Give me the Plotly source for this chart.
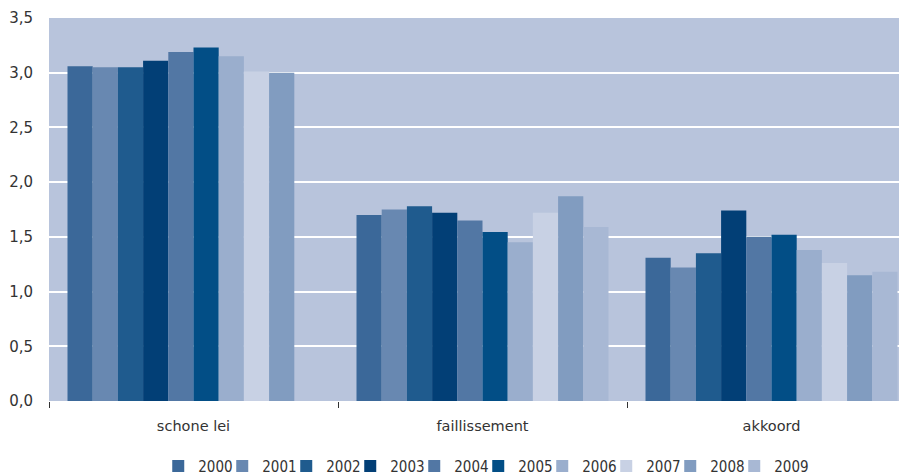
import plotly.graph_objects as go

categorias = ["schone lei", "faillissement", "akkoord"]
jaren = ["2000", "2001", "2002", "2003", "2004", "2005", "2006", "2007", "2008", "2009"]

# waarden per jaar: schone lei, faillissement, akkoord
w2000 = [3.06, 1.70, 1.31]
w2001 = [3.05, 1.75, 1.22]
w2002 = [3.05, 1.78, 1.35]
w2003 = [3.11, 1.72, 1.74]
w2004 = [3.19, 1.65, 1.50]
w2005 = [3.23, 1.545, 1.52]
w2006 = [3.15, 1.45, 1.38]
w2007 = [3.01, 1.72, 1.26]
w2008 = [3.00, 1.87, 1.15]
w2009 = [None, 1.59, 1.18]

waarden = [w2000, w2001, w2002, w2003, w2004, w2005, w2006, w2007, w2008, w2009]
kleuren = ["#3b6899", "#6888b1", "#1f5b8e", "#023f76", "#5277a4",
           "#024e86", "#9aaecd", "#c8d1e4", "#819cc0", "#a8b8d4"]

fig = go.Figure()
for jaar, w, k in zip(jaren, waarden, kleuren):
    fig.add_trace(go.Bar(x=categorias, y=w, name=jaar, marker_color=k,
                         marker_line_width=0))

# lege legenda-plek zodat de tekst "2009" niet wordt afgeknipt
fig.add_trace(go.Scatter(x=[None], y=[None], mode="markers", name=" ",
                         marker=dict(color="rgba(0,0,0,0)"), hoverinfo="skip"))

# de pagina heeft 8px body-marge; het plotvlak loopt rechts iets buiten beeld
fig.update_layout(
    width=908, height=467,
    margin=dict(l=41, r=0, t=10, b=74, autoexpand=False),
    paper_bgcolor="white", plot_bgcolor="#b8c4dc",
    barmode="group", bargap=0.128, bargroupgap=0,
    separators=",.",
    font=dict(family="DejaVu Sans", size=15, color="#333333"),
    showlegend=True,
    legend=dict(orientation="h", x=0.532, xanchor="center", y=-0.127, yanchor="top",
                font=dict(family="DejaVu Sans Condensed", size=15, color="#333333"),
                entrywidth=19, entrywidthmode="pixels", itemwidth=30,
                traceorder="normal"),
)
fig.update_xaxes(
    range=[-0.5, 2.5], showgrid=False, zeroline=False, showline=False,
    ticks="outside", tickson="boundaries", ticklen=6, tickcolor="#333333",
    ticklabelstandoff=14, automargin=False, tickfont=dict(size=14.5),
)
fig.update_yaxes(
    range=[0, 3.5], dtick=0.5, tickformat=".1f",
    showgrid=True, gridcolor="white", gridwidth=2,
    zeroline=False, showline=False, ticks="", ticklabelstandoff=15,
    automargin=False,
)

fig.write_html("out.html")
